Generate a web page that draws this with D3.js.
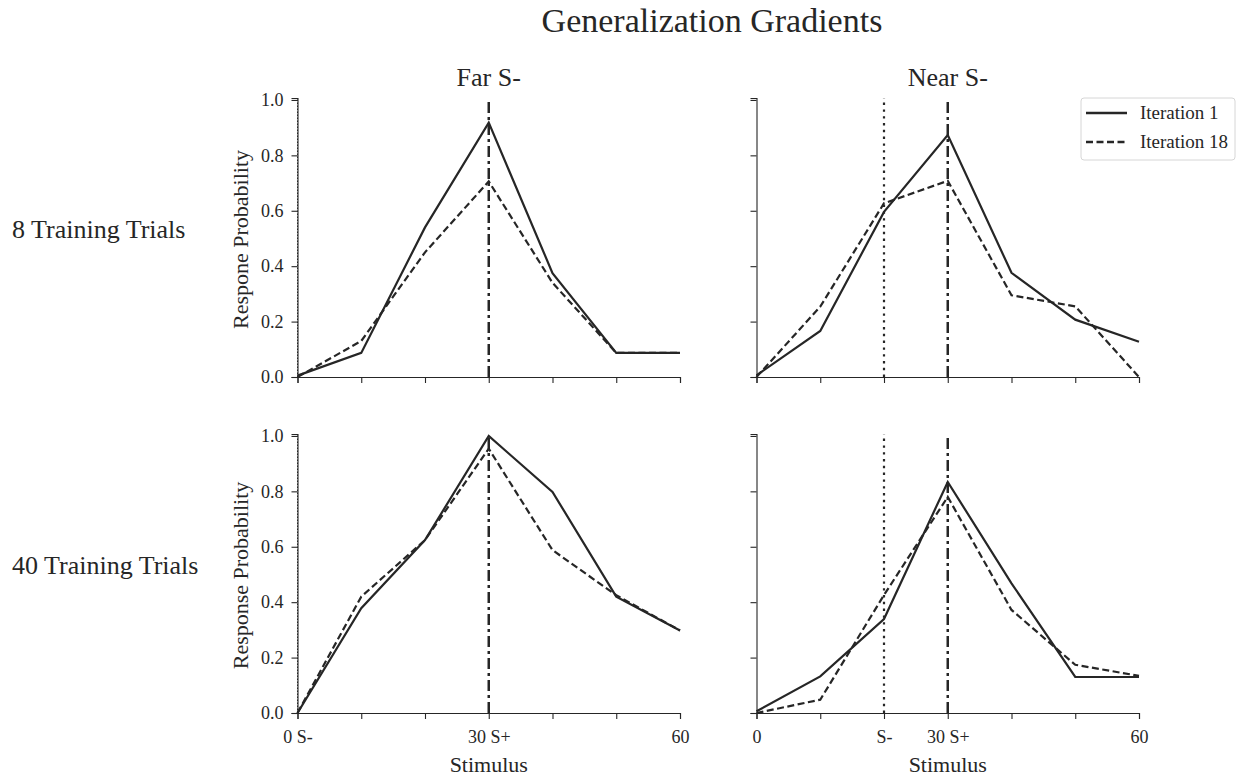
<!DOCTYPE html>
<html>
<head>
<meta charset="utf-8">
<script src="https://cdn.jsdelivr.net/npm/d3@7"></script>
<style>
  body { margin: 0; background: #fff; }
  svg text { font-family: "Liberation Serif", "DejaVu Serif", serif; fill: #262626; }
</style>
</head>
<body>
<svg id="chart" width="1241" height="779"></svg>
<script>
// stimulus values along the x axis
var stimulus = [0, 10, 20, 30, 40, 50, 60];

// response probabilities
var far8Iter1   = [0.005, 0.087, 0.54, 0.918, 0.375, 0.087, 0.087];
var far8Iter18  = [0.0, 0.13, 0.45, 0.706, 0.34, 0.087, 0.087];
var near8Iter1  = [0.006, 0.166, 0.596, 0.873, 0.376, 0.207, 0.127];
var near8Iter18 = [0.0, 0.254, 0.627, 0.708, 0.295, 0.255, 0.0];
var far40Iter1   = [0.0, 0.378, 0.624, 1.0, 0.798, 0.42, 0.298];
var far40Iter18  = [0.0, 0.42, 0.624, 0.954, 0.588, 0.425, 0.298];
var near40Iter1  = [0.006, 0.132, 0.339, 0.834, 0.468, 0.13, 0.13];
var near40Iter18 = [0.0, 0.048, 0.426, 0.78, 0.372, 0.174, 0.134];

var yTicks = [0, 0.2, 0.4, 0.6, 0.8, 1.0];
var seriesNames = ["Iteration 1", "Iteration 18"];
var colTitles = ["Far S-", "Near S-"];
var rowTitles = ["8 Training Trials", "40 Training Trials"];
var yLabels = ["Respone Probability", "Response Probability"];
var sMinus = [0, 20];   // position of S- in each column
var sPlus = 30;
var farTickLabels  = ["0 S-", "", "", "30 S+", "", "", "60"];
var nearTickLabels = ["0", "", "S-", "30 S+", "", "", "60"];

var panels = [
  {row: 0, col: 0, a: far8Iter1,  b: far8Iter18},
  {row: 0, col: 1, a: near8Iter1, b: near8Iter18},
  {row: 1, col: 0, a: far40Iter1, b: far40Iter18},
  {row: 1, col: 1, a: near40Iter1, b: near40Iter18}
];

var ink = "#262626";
var colX = [297.5, 756.5], panelW = 382.5;
var rowY = [98, 434], panelH = 279;

var svg = d3.select("#chart");

svg.append("text")
  .attr("x", 712).attr("y", 32)
  .attr("text-anchor", "middle")
  .style("font-size", "34px")
  .text("Generalization Gradients");

rowTitles.forEach(function(t, i){
  svg.append("text")
    .attr("x", 12).attr("y", rowY[i] + 139.5)
    .style("font-size", "26px")
    .text(t);
});

panels.forEach(function(p){
  var g = svg.append("g")
    .attr("transform", "translate(" + colX[p.col] + "," + rowY[p.row] + ")");

  var x = d3.scaleLinear().domain([0, 60]).range([0, panelW]);
  var y = d3.scaleLinear().domain([0, 1.007]).range([panelH, 0]);

  var tickLabels = p.col === 0 ? farTickLabels : nearTickLabels;
  var xAxis = d3.axisBottom(x).tickValues(stimulus).tickSize(6).tickPadding(11)
    .tickFormat(function(d, i){ return p.row === 1 ? tickLabels[i] : ""; });
  var yAxis = d3.axisLeft(y).tickValues(yTicks).tickSize(6).tickPadding(8)
    .tickFormat(function(d){ return p.col === 0 ? d3.format(".1f")(d) : ""; });

  var gx = g.append("g").attr("transform", "translate(0," + panelH + ")").call(xAxis);
  var gy = g.append("g").call(yAxis);
  [gx, gy].forEach(function(ax){
    ax.select(".domain").attr("stroke", ink).attr("stroke-width", 1.1);
    ax.selectAll(".tick line").attr("stroke", ink).attr("stroke-width", 1.1);
    ax.selectAll(".tick text").style("font-size", "18px").style("font-family", "Liberation Serif").attr("fill", "#333");
  });

  // S- and S+ reference lines
  g.append("line")
    .attr("x1", x(sMinus[p.col])).attr("x2", x(sMinus[p.col]))
    .attr("y1", y(0)).attr("y2", y(1.007))
    .attr("stroke", ink)
    .attr("stroke-width", p.col === 0 ? 1 : 2.2)
    .attr("stroke-dasharray", p.col === 0 ? "1.5,1.5" : "2.4,4.4");
  g.append("line")
    .attr("x1", x(sPlus)).attr("x2", x(sPlus))
    .attr("y1", y(0)).attr("y2", y(1.007))
    .attr("stroke", ink).attr("stroke-width", 2.5)
    .attr("stroke-dasharray", "11,4,3,4");

  var line = d3.line()
    .x(function(d, i){ return x(stimulus[i]); })
    .y(function(d){ return y(d); });

  g.append("path").attr("d", line(p.a))
    .attr("fill", "none").attr("stroke", ink).attr("stroke-width", 2.2)
    .attr("stroke-linejoin", "miter");
  g.append("path").attr("d", line(p.b))
    .attr("fill", "none").attr("stroke", ink).attr("stroke-width", 2.2)
    .attr("stroke-dasharray", "7,3.5");

  if (p.row === 0) {
    g.append("text")
      .attr("x", panelW / 2).attr("y", -12)
      .attr("text-anchor", "middle")
      .style("font-size", "26px")
      .text(colTitles[p.col]);
  } else {
    g.append("text")
      .attr("x", panelW / 2).attr("y", panelH + 58.5)
      .attr("text-anchor", "middle")
      .style("font-size", "22px")
      .text("Stimulus");
  }
  if (p.col === 0) {
    g.append("text")
      .attr("transform", "translate(-50," + (panelH / 2 + 2) + ") rotate(-90)")
      .attr("text-anchor", "middle")
      .style("font-size", "22px")
      .text(yLabels[p.row]);
  }

  if (p.row === 0 && p.col === 1) {
    var lg = svg.append("g").attr("transform", "translate(1081,98)");
    lg.append("rect")
      .attr("width", 154).attr("height", 62).attr("rx", 3)
      .attr("fill", "#fff").attr("stroke", "#d6d6d6").attr("stroke-width", 1);
    seriesNames.forEach(function(n, i){
      var yy = 15 + i * 29;
      lg.append("line")
        .attr("x1", 5).attr("x2", 46).attr("y1", yy).attr("y2", yy)
        .attr("stroke", ink).attr("stroke-width", 2.4)
        .attr("stroke-dasharray", i === 0 ? null : "7,3.5");
      lg.append("text")
        .attr("x", 59).attr("y", yy + 6)
        .style("font-size", "19px")
        .text(n);
    });
  }
});
</script>
</body>
</html>
